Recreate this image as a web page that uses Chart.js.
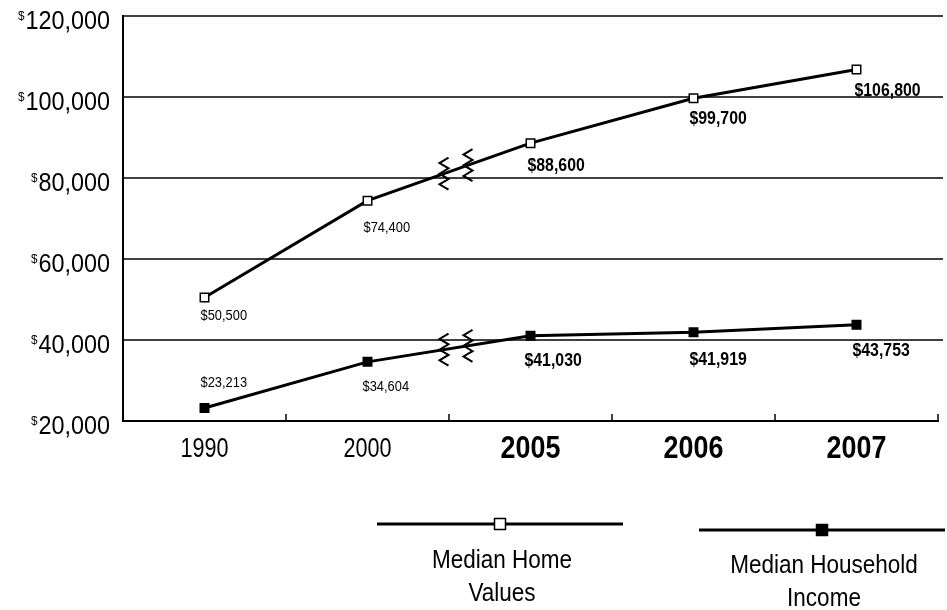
<!DOCTYPE html>
<html>
<head>
<meta charset="utf-8">
<script src="https://cdn.jsdelivr.net/npm/chart.js@4.4.0/dist/chart.umd.min.js"></script>
<style>
  html, body { margin: 0; padding: 0; background: #fff; }
  canvas { display: block; }
</style>
</head>
<body>
<canvas id="chart" width="947" height="610"></canvas>
<script>
// Years on the horizontal axis
const years = ['1990', '2000', '2005', '2006', '2007'];
// Median home values, dollars
const homeValues = [50500, 74400, 88600, 99700, 106800];
// Median household income, dollars
const householdIncome = [23213, 34604, 41030, 41919, 43753];
// Dollar values labelled on the vertical axis
const yTickValues = [20000, 40000, 60000, 80000, 100000, 120000];
// Legend captions, one line per entry
const seriesNames = [['Median Home', 'Values'], ['Median Household', 'Income']];

const SANS = '"Liberation Sans", Arial, Helvetica, sans-serif';

// Placement of each value label relative to its marker: [dx, dy (middle), bold]
const homeLabelPos = [[-4, 19, false], [-4, 27, false], [-3, 23, true], [-4, 21, true], [-2, 22, true]];
const incomeLabelPos = [[-4, -25, false], [-5, 25, false], [-6, 25, true], [-4, 28, true], [-4, 26, true]];

const fmt = v => '$' + v.toLocaleString('en-US');

// Text squeezed horizontally to give a condensed face
function condensed(ctx, text, x, y, font, sx, align) {
  ctx.save();
  ctx.font = font;
  ctx.textAlign = align;
  ctx.translate(x, y);
  ctx.scale(sx, 1);
  ctx.fillText(text, 0, 0);
  ctx.restore();
}

function zigzag(ctx, cx, cy) {
  const h = 32, w = 4.5, n = 6;
  ctx.beginPath();
  for (let k = 0; k <= n; k++) {
    const px = cx + (k % 2 === 0 ? w : -w);
    const py = cy - h / 2 + k * h / n;
    if (k === 0) ctx.moveTo(px, py); else ctx.lineTo(px, py);
  }
  ctx.stroke();
}

const decor = {
  id: 'decor',
  beforeDatasetsDraw(chart) {
    const { ctx, chartArea: a, scales: { x, y } } = chart;
    ctx.save();
    ctx.strokeStyle = '#000';
    // horizontal rules at every labelled value above the base line
    ctx.lineWidth = 1.5;
    yTickValues.slice(1).forEach(v => {
      const py = Math.round(y.getPixelForValue(v));
      ctx.beginPath();
      ctx.moveTo(a.left, py);
      ctx.lineTo(a.right + 5, py);
      ctx.stroke();
    });
    // small upward ticks on the category boundaries
    const half = (x.getPixelForValue(1) - x.getPixelForValue(0)) / 2;
    years.forEach((_, i) => {
      const px = Math.round(x.getPixelForValue(i) + half);
      ctx.beginPath();
      ctx.moveTo(px, a.bottom);
      ctx.lineTo(px, a.bottom - 7);
      ctx.stroke();
    });
    ctx.restore();
  },
  afterDatasetsDraw(chart) {
    const { ctx, chartArea: a, scales: { x, y } } = chart;
    ctx.save();
    ctx.strokeStyle = '#000';
    ctx.fillStyle = '#000';
    ctx.lineWidth = 2;
    // scale-break marks between 2000 and 2005 on both lines
    const x1 = x.getPixelForValue(1), x2 = x.getPixelForValue(2);
    const gap = (x1 + x2) / 2;
    [homeValues, householdIncome].forEach(vals => {
      const y1 = y.getPixelForValue(vals[1]), y2 = y.getPixelForValue(vals[2]);
      [-5, 19].forEach(off => {
        const bx = gap + off;
        const by = y1 + (y2 - y1) * (bx - x1) / (x2 - x1);
        zigzag(ctx, bx, by);
      });
    });
    // value labels beside each marker
    ctx.textBaseline = 'middle';
    [[homeValues, homeLabelPos], [householdIncome, incomeLabelPos]].forEach(([vals, pos]) => {
      vals.forEach((v, i) => {
        const [dx, dy, bold] = pos[i];
        condensed(ctx, fmt(v), x.getPixelForValue(i) + dx, y.getPixelForValue(v) + dy,
          bold ? 'bold 18px ' + SANS : '14px ' + SANS, bold ? 0.88 : 0.92, 'left');
      });
    });
    // year labels under each category
    ctx.textBaseline = 'alphabetic';
    years.forEach((t, i) => {
      const bold = i >= 2;
      condensed(ctx, t, x.getPixelForValue(i), a.bottom + (bold ? 37 : 36),
        bold ? 'bold 32px ' + SANS : '27px ' + SANS, bold ? 0.84 : 0.8, 'center');
    });
    ctx.restore();
  },
  afterDraw(chart) {
    const { ctx, scales: { y } } = chart;
    ctx.save();
    ctx.fillStyle = '#000';
    ctx.strokeStyle = '#000';
    ctx.textBaseline = 'alphabetic';
    // dollar tick labels with a raised dollar sign
    yTickValues.forEach(v => {
      const py = y.getPixelForValue(v);
      const num = v.toLocaleString('en-US');
      const sx = 0.9;
      condensed(ctx, num, 110, py + 13, '26px ' + SANS, sx, 'right');
      ctx.font = '26px ' + SANS;
      const w = ctx.measureText(num).width * sx;
      condensed(ctx, '$', 110 - w - 1, py + 4, '13px ' + SANS, 0.9, 'right');
    });
    // legend: line sample with marker, caption below
    const entries = [
      { cx: 500, ly: 524, filled: false, tx: 502, base: 568, lines: seriesNames[0] },
      { cx: 822, ly: 530, filled: true, tx: 824, base: 573, lines: seriesNames[1] }
    ];
    entries.forEach(e => {
      ctx.lineWidth = 3;
      ctx.beginPath();
      ctx.moveTo(e.cx - 123, e.ly);
      ctx.lineTo(e.cx + 123, e.ly);
      ctx.stroke();
      ctx.lineWidth = 1.5;
      ctx.fillStyle = e.filled ? '#000' : '#fff';
      ctx.fillRect(e.cx - 5.5, e.ly - 5.5, 11, 11);
      ctx.strokeRect(e.cx - 5.5, e.ly - 5.5, 11, 11);
      ctx.fillStyle = '#000';
      e.lines.forEach((t, k) => condensed(ctx, t, e.tx, e.base + k * 33, '25px ' + SANS, 0.9, 'center'));
    });
    ctx.restore();
  }
};

new Chart(document.getElementById('chart'), {
  type: 'line',
  data: {
    labels: years,
    datasets: [
      {
        label: seriesNames[0].join(' '),
        data: homeValues,
        borderColor: '#000',
        borderWidth: 3,
        pointStyle: 'rect',
        pointRadius: 6,
        pointBackgroundColor: '#fff',
        pointBorderColor: '#000',
        pointBorderWidth: 1.5,
        tension: 0
      },
      {
        label: seriesNames[1].join(' '),
        data: householdIncome,
        borderColor: '#000',
        borderWidth: 3,
        pointStyle: 'rect',
        pointRadius: 6,
        pointBackgroundColor: '#000',
        pointBorderColor: '#000',
        pointBorderWidth: 1.5,
        tension: 0
      }
    ]
  },
  options: {
    responsive: false,
    animation: false,
    devicePixelRatio: 1,
    layout: { padding: { top: 16, right: 9, left: 0, bottom: 0 } },
    plugins: { legend: { display: false }, tooltip: { enabled: false } },
    scales: {
      x: {
        offset: true,
        grid: { display: false, drawTicks: false },
        border: { display: true, color: '#000', width: 2 },
        ticks: { display: false },
        afterFit(s) { s.height = 189; }
      },
      y: {
        min: 20000,
        max: 120000,
        ticks: { display: false, stepSize: 20000 },
        grid: { display: false },
        border: { display: true, color: '#000', width: 2 },
        afterFit(s) { s.width = 123; }
      }
    }
  },
  plugins: [decor]
});
</script>
</body>
</html>
